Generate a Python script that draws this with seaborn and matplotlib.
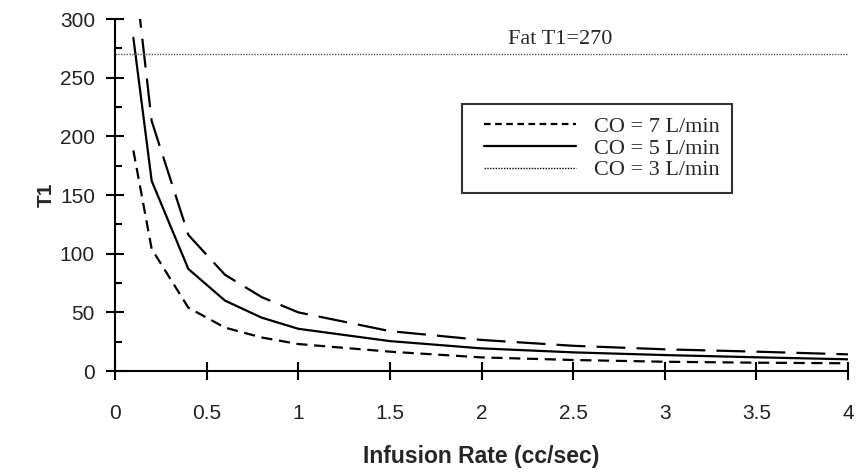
import matplotlib
matplotlib.use("Agg")
import matplotlib.pyplot as plt
from matplotlib.lines import Line2D
from matplotlib.legend_handler import HandlerLine2D
import pandas as pd
import seaborn as sns

# infusion rate (cc/sec) and T1
rate = [0.1, 0.2, 0.4, 0.6, 0.8, 1.0, 1.5, 2.0, 2.5, 3.0, 3.5, 4.0]
t1_co7 = [350, 213, 116, 82, 63, 50, 34, 26.5, 21.5, 18.5, 16.5, 14.2]
t1_co5 = [284, 162, 87, 60, 45.5, 36, 25.5, 19.3, 15.9, 13.6, 11.7, 10.0]
t1_co3 = [188, 104, 54, 37, 28.6, 23, 16.5, 11.6, 9.4, 7.9, 7.1, 6.6]
labels = ["CO = 7 L/min", "CO = 5 L/min", "CO = 3 L/min"]
fat_t1 = 270

xticks = [0, 0.5, 1, 1.5, 2, 2.5, 3, 3.5, 4]
xticklabels = ["0", "0.5", "1", "1.5", "2", "2.5", "3", "3.5", "4"]
yticks = [0, 50, 100, 150, 200, 250, 300]
yminor = [25, 75, 125, 175, 225, 275]

df = pd.DataFrame({
    "rate": rate * 3,
    "T1": t1_co7 + t1_co5 + t1_co3,
    "CO": [labels[0]] * len(rate) + [labels[1]] * len(rate) + [labels[2]] * len(rate),
})

sns.set_style("ticks")
plt.rcParams["font.family"] = ["Liberation Sans", "DejaVu Sans"]

fig = plt.figure(figsize=(8.63, 4.73), dpi=100)
ax = fig.add_axes([0.1333, 0.2156, 0.8493, 0.7442])

# the plotted curves: long dash, solid, short dash
styles = {labels[0]: (0, (13, 5)), labels[1]: "", labels[2]: (0, (5, 3))}
for lab in labels:
    sns.lineplot(data=df[df["CO"] == lab], x="rate", y="T1", ax=ax,
                 color="black", linewidth=1.6, legend=False)
    if styles[lab] != "":
        ax.lines[-1].set_linestyle(styles[lab])

ax.axhline(fat_t1, color="#555555", linewidth=1.0, linestyle=(0, (1, 1)))
ax.text(2.43, 279, "Fat T1=270", ha="center", va="baseline",
        fontsize=16, family="Liberation Serif")

ax.set_xlim(0, 4)
ax.set_ylim(0, 300)
ax.set_xticks(xticks, xticklabels)
ax.set_yticks(yticks)
ax.set_yticks(yminor, minor=True)

sns.despine(ax=ax)
for s in ["left", "bottom"]:
    ax.spines[s].set_linewidth(1.5)
    ax.spines[s].set_color("black")
ax.tick_params(axis="both", which="major", direction="inout", length=13,
               width=1.5, color="black", labelsize=15, labelcolor="#222222")
ax.tick_params(axis="x", which="major", pad=17)
ax.tick_params(axis="y", which="major", pad=8)
ax.tick_params(axis="y", which="minor", direction="in", length=5, width=1.5, color="black")

ax.set_xlabel("Infusion Rate (cc/sec)", fontsize=16.5, fontweight="bold", labelpad=16)
ax.set_ylabel("T1", fontsize=15, fontweight="bold", labelpad=3)

# legend as printed in the original figure
handles = [
    Line2D([], [], color="black", linewidth=1.6, linestyle=(0, (3, 2))),
    Line2D([], [], color="black", linewidth=1.6),
    Line2D([], [], color="black", linewidth=1.0, linestyle=(0, (1, 1))),
]
leg = ax.legend(handles, labels, loc="upper left", bbox_to_anchor=(0.473, 0.758),
                prop={"family": "Liberation Serif", "size": 16},
                fancybox=False, frameon=True, edgecolor="black",
                handlelength=4.6, handletextpad=0.8, labelspacing=0.05,
                borderpad=0.55, borderaxespad=0,
                handler_map={Line2D: HandlerLine2D(xpad=0.45)})
leg.get_frame().set_linewidth(1.5)

fig.savefig("out.png", dpi=100)
